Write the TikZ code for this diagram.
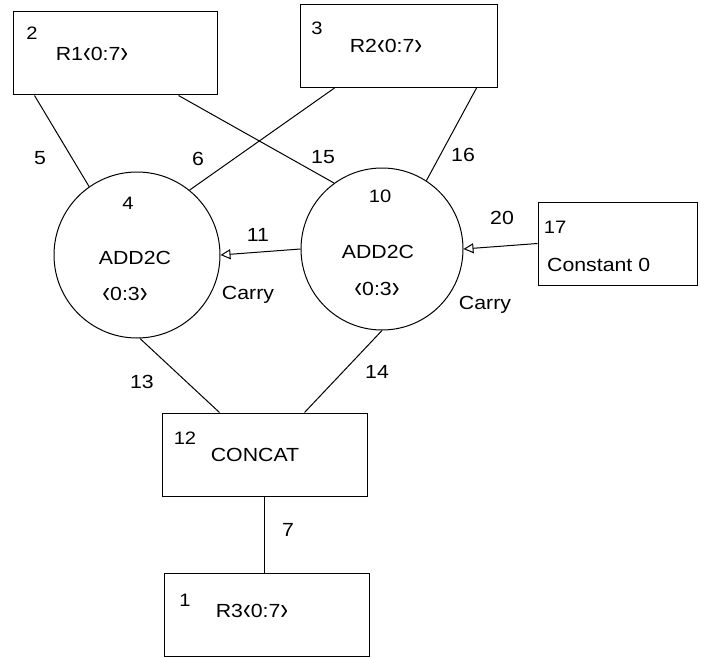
\documentclass[tikz,border=0pt]{standalone}
\usepackage{fontspec}
\setmainfont[FakeStretch=1.12]{Liberation Sans}
\usetikzlibrary{arrows.meta}
\newcommand{\lchev}{\raisebox{-0.1em}{\scalebox{1.1}[1.6]{‹}}}
\newcommand{\rchev}{\raisebox{-0.1em}{\scalebox{1.1}[1.6]{›}}}
\begin{document}
\begin{tikzpicture}[x=1pt,y=-1pt,
  box/.style={draw,line width=1pt,minimum width=#1,minimum height=83pt,inner sep=0pt},
  unit/.style={draw,circle,line width=1pt,minimum size=#1,inner sep=0pt},
  wire/.style={line width=1pt},
  carry/.style={line width=1pt,-{Triangle[open,length=10pt,width=10pt]}},
  txt/.style={font=\fontsize{19}{21}\selectfont,inner sep=0pt},
  idn/.style={font=\fontsize{18}{20}\selectfont,inner sep=0pt}]
\useasboundingbox (0,0) rectangle (701,658);
% boxes
\node[box=204pt] (b2) at (115,53.5) {};
\node[box=197pt] (b3) at (398.5,46) {};
\node[box=159pt] (b17) at (617.5,243.5) {};
\node[box=205pt] (b12) at (264.5,454.5) {};
\node[box=205pt] (b1) at (266.5,614.5) {};
% circles
\node[unit=166pt] (c4) at (137,255) {};
\node[unit=162pt] (c10) at (382,249) {};
% texts in boxes
\node[idn] (t2) at (32,33) {2};
\node[txt] (n2) at (92,55) {R1\lchev0:7\rchev};
\node[idn] (t3) at (317,28) {3};
\node[txt] (n3) at (386,47) {R2\lchev0:7\rchev};
\node[idn] (t17) at (555,227) {17};
\node[txt,anchor=west] (n17) at (547,265) {Constant 0};
\node[idn] (t12) at (185,438) {12};
\node[txt] (n12) at (255,455) {CONCAT};
\node[idn] (t1) at (185,600) {1};
\node[txt] (n1) at (252,612) {R3\lchev0:7\rchev};
% texts in circles
\node[idn] (t4) at (128,203) {4};
\node[txt] (n4a) at (135,258) {ADD2C};
\node[txt] (n4b) at (125,295) {\lchev0:3\rchev};
\node[idn] (t10) at (380,196) {10};
\node[txt] (n10a) at (378,252) {ADD2C};
\node[txt] (n10b) at (377,290) {\lchev0:3\rchev};
% connectors
\draw[wire] ([xshift=22pt]b2.south west) -- (c4.125);
\draw[wire] ([xshift=35pt]b3.south west) -- (c4.51);
\draw[wire] ([xshift=-39pt]b2.south east) -- (c10.126);
\draw[wire] ([xshift=-21pt]b3.south east) -- (c10.57);
\draw[wire] (c4.-88) -- ([xshift=58pt]b12.north west);
\draw[wire] (c10.south) -- ([xshift=143pt]b12.north west);
\draw[wire] (b12.south) -- (b12.south |- b1.north);
\draw[carry] (c10.west) -- (c4.east);
\draw[carry] (b17.west) -- (c10.east);
% connector labels
\node[txt] (l5) at (40,158) {5};
\node[txt] (l6) at (198,159) {6};
\node[txt] (l15) at (323,157) {15};
\node[txt] (l16) at (463,155) {16};
\node[txt] (l11) at (258,235) {11};
\node[txt] (l20) at (502,218) {20};
\node[txt] (ca) at (248,295) {Carry};
\node[txt] (cb) at (485,305) {Carry};
\node[txt] (l13) at (142,382) {13};
\node[txt] (l14) at (377,372) {14};
\node[txt] (l7) at (288,530) {7};
\end{tikzpicture}
\end{document}
